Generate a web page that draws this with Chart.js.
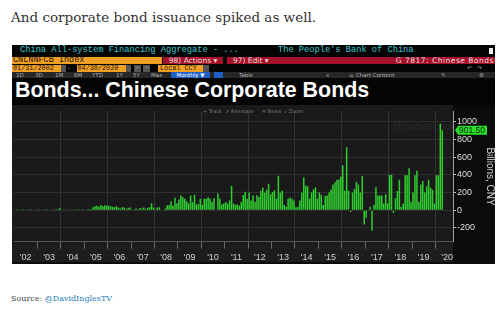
<!DOCTYPE html>
<html>
<head>
<meta charset="utf-8">
<script src="https://cdn.jsdelivr.net/npm/chart.js@4/dist/chart.umd.min.js"></script>
<style>
  html, body { margin: 0; padding: 0; background: #fff; }
  body { width: 504px; height: 310px; position: relative; overflow: hidden; }
  .abs { position: absolute; white-space: nowrap; }
  #intro { left: 11px; top: 9px; font: 13.5px/16px "DejaVu Serif", serif; color: #333; }
  #source { left: 11px; top: 294px; font: 8px/10px "DejaVu Serif", serif; color: #444; }
  #source span { color: #2b7bb9; }
  #panel { left: 12px; top: 45px; width: 483px; height: 219px; background: #050505; overflow: hidden; }
  .mono { font-family: "Liberation Mono", "DejaVu Sans Mono", monospace; }
  .row1 { top: 0; font-size: 8.7px; line-height: 11.5px; color: #3fc6cf; }
  .orange { background: #f2a024; color: #1c1208; }
  .red { background: #a3122a; color: #f3dada; font: 7.5px/7.5px "DejaVu Sans", sans-serif; }
  .row3 { top: 20px; height: 6.5px; font-size: 6.8px; line-height: 6.5px; }
  .gbox { background: #555; }
  #row4 { left: 0; top: 27px; width: 483px; height: 6px; background: #262626; }
  #row4 .abs { top: 0; font: 5.5px/6px "DejaVu Sans", sans-serif; color: #b4b4b4; }
  #title { left: 3px; top: 34.3px; font: bold 21.4px/22px "Liberation Sans", Arial, sans-serif; color: #fff; }
  #chart { position: absolute; left: 0; top: 60px; }
  .tool { top: 62.5px; font: 5px/7px "DejaVu Sans", sans-serif; color: #7c7c7c; }
  #wm { left: 380px; top: 75px; font: 11px/12px "Liberation Sans", sans-serif; color: rgba(255,255,255,0.07); }
</style>
</head>
<body>
<div id="intro" class="abs">And corporate bond issuance spiked as well.</div>

<div id="panel" class="abs">
  <div class="abs mono row1" style="left:8px">China All-system Financing Aggregate - ...</div>
  <div class="abs mono row1" style="left:266px">The People's Bank of China</div>
  <div class="abs" style="left:477px;top:2.5px;width:4px;height:6px;background:#eee"></div>

  <div class="abs mono orange" style="left:0;top:11.5px;width:149px;height:7.5px;font-size:8.5px;line-height:7.5px;padding-left:1px">CNLNNFCB Index</div>
  <div class="abs red" style="left:151px;top:11.5px;width:60px;height:7.5px;text-align:center">98) Actions ▾</div>
  <div class="abs red" style="left:215px;top:11.5px;width:268px;height:7.5px">
    <span class="abs" style="left:6px">97) Edit ▾</span>
    <span class="abs" style="right:1px;letter-spacing:0.5px">G 7817: Chinese Bonds</span>
  </div>

  <div class="abs mono orange row3" style="left:0;width:48px;padding-left:1px">01/31/2002</div>
  <div class="abs gbox row3" style="left:49px;width:5px"></div>
  <div class="abs row3" style="left:56px;color:#aaa;font-size:6px">-</div>
  <div class="abs mono orange row3" style="left:64.5px;width:48px;padding-left:1px">04/30/2020</div>
  <div class="abs gbox row3" style="left:114px;width:5px"></div>
  <div class="abs gbox row3" style="left:122px;width:7px;color:#ddd;font-size:5px;text-align:center">&lt;</div>
  <div class="abs gbox row3" style="left:131px;width:7px;color:#ddd;font-size:5px;text-align:center">&gt;</div>
  <div class="abs mono orange row3" style="left:146px;width:43px;padding-left:2px">Local CCY</div>
  <div class="abs gbox row3" style="left:191px;width:6px"></div>
  <div class="abs row3" style="left:455px;color:#999;font-size:6px">↶ &nbsp; ↷</div>

  <div id="row4" class="abs">
    <span class="abs" style="left:4px">1D</span>
    <span class="abs" style="left:23px">3D</span>
    <span class="abs" style="left:43px">1M</span>
    <span class="abs" style="left:62px">6M</span>
    <span class="abs" style="left:80px">YTD</span>
    <span class="abs" style="left:104px">1Y</span>
    <span class="abs" style="left:121px">5Y</span>
    <span class="abs" style="left:139px">Max</span>
    <span class="abs" style="left:159px;width:39px;height:6px;background:#1f5fc6;color:#fff;text-align:center">Monthly ▼</span>
    <span class="abs" style="left:202px;width:9px;height:6px;background:#1f5fc6"></span>
    <span class="abs" style="left:227px">Table</span>
    <span class="abs" style="left:314px">«</span>
    <span class="abs" style="left:337px">⚌ Chart Content</span>
    <span class="abs" style="left:429px">✎</span>
    <span class="abs" style="left:467px">⚙</span>
  </div>

  <div id="title" class="abs">Bonds... Chinese Corporate Bonds</div>

  <canvas id="chart" width="483" height="159"></canvas>

  <div class="abs tool" style="left:191px">+ Track</div>
  <div class="abs tool" style="left:213px">↗ Annotate</div>
  <div class="abs tool" style="left:250px">≡ News</div>
  <div class="abs tool" style="left:272px">⌕ Zoom</div>
  <div id="wm" class="abs">@SoberLook</div>
</div>

<div id="source" class="abs">Source: <span>@DavidInglesTV</span></div>

<script>
// ------- Data -------
const yearLabels = ["'02", "'03", "'04", "'05", "'06", "'07", "'08", "'09", "'10", "'11",
                    "'12", "'13", "'14", "'15", "'16", "'17", "'18", "'19", "'20"];
const firstYear = 2002;
const yTicks = [-200, 0, 200, 400, 600, 800, 1000];

// Net corporate bond financing, billions CNY, monthly from Jan 2002 to Apr 2020 (one row per year)
const bondValues = [
    5, 3, 8, 5, 10, 6, 8, 5, 12, 6, 5, 8,                       // 2002
    4, 6, 5, 8, 10, 5, 6, 8, 5, 10, 12, 25,                     // 2003
    5, 3, 6, 4, 5, 3, 8, 5, 12, 4, 6, 10,                       // 2004
    5, 8, 10, 15, 35, 45, 50, 40, 60, 45, 55, 50,               // 2005
    50, 45, 40, 35, 45, 30, 20, 35, 30, 15, 25, 30,             // 2006
    5, 10, 20, 10, 25, 20, 30, 15, 25, 35, 80, 30,              // 2007
    10, 30, 35, 5, 5, 20, 55, 60, 100, 50, 140, 80,             // 2008
    120, 165, 147, 130, 100, 75, 165, 93, 175, 68, 68, 130,     // 2009
    60, 130, 130, 147, 130, 93, 136, 5, 190, 130, 64, 75,       // 2010
    93, 75, 110, 272, 75, 64, 64, 50, 93, 172, 208, 130,        // 2011
    200, 110, 165, 93, 170, 150, 220, 255, 200, 230, 300, 180,  // 2012
    205, 225, 130, 390, 200, 220, 60, 40, 130, 145, 130, 110,   // 2013
    30, 40, 110, 200, 370, 280, 270, 130, 200, 235, 260, 130,   // 2014
    200, 175, 60, 160, 165, 200, 235, 290, 315, 345, 345, 380,  // 2015
    505, 220, 710, 220, -20, 200, 240, 320, 290, 200, 390, -160,// 2016
    -85, -10, 40, -230, 60, 260, 165, 165, 165, 75, 180, 75,    // 2017
    400, 400, -30, 135, 218, 343, 40, 75, 396, 396, 475, 93,    // 2018
    200, 396, 446, 93, 290, 330, 200, 270, 343, 253, 230, 75,   // 2019
    396, 396, 975, 901.5                                        // 2020
];

// month categories run a few months past the last value (right padding of the terminal chart)
const monthLabels = [];
for (let i = 0; i < bondValues.length + 5; i++) {
    monthLabels.push((firstYear + Math.floor(i / 12)) + '-' + String(i % 12 + 1).padStart(2, '0'));
}

// ------- Plugins -------
const panelBg = {
    id: 'panelBg',
    beforeDraw(chart) {
        const { ctx, chartArea: a, width, height } = chart;
        ctx.save();
        ctx.fillStyle = '#0b0b0b';
        ctx.fillRect(0, 0, width, height);
        ctx.fillStyle = '#1a1a1a';
        ctx.fillRect(0, 0, a.right, a.bottom);
        ctx.fillStyle = '#1d1d1d';
        ctx.fillRect(0, a.bottom, a.right, height - a.bottom - 2);
        ctx.restore();
    }
};

const lastTag = {
    id: 'lastTag',
    afterDraw(chart) {
        const { ctx, chartArea: a } = chart;
        const v = bondValues[bondValues.length - 1];
        const y = chart.scales.y.getPixelForValue(v);
        const x0 = a.right + 2, x1 = a.right + 34, h = 4.5;
        ctx.save();
        ctx.fillStyle = '#27e027';
        ctx.beginPath();
        ctx.moveTo(x0, y);
        ctx.lineTo(x0 + 3, y - h);
        ctx.lineTo(x1, y - h);
        ctx.lineTo(x1, y + h);
        ctx.lineTo(x0 + 3, y + h);
        ctx.closePath();
        ctx.fill();
        ctx.fillStyle = '#0c1a0c';
        ctx.font = '8.5px "Liberation Sans", Arial, sans-serif';
        ctx.textBaseline = 'middle';
        ctx.fillText(v.toFixed(2), x0 + 4, y + 0.5);
        ctx.restore();
    }
};

// ------- Chart -------
new Chart(document.getElementById('chart'), {
    type: 'bar',
    data: {
        labels: monthLabels,
        datasets: [{
            data: bondValues,
            backgroundColor: '#2fcc2f',
            borderWidth: 0,
            barPercentage: 0.78,
            categoryPercentage: 1.0
        }]
    },
    options: {
        responsive: false,
        animation: false,
        layout: { padding: 0 },
        plugins: { legend: { display: false }, tooltip: { enabled: false } },
        scales: {
            x: {
                grid: {
                    offset: true,
                    tickLength: 7,
                    color: (c) => {
                        const i = c.index;
                        if (i <= 0 || i >= monthLabels.length || i % 12 !== 0) return 'transparent';
                        return (i / 12) % 2 === 0 ? '#333333' : 'transparent';
                    },
                    tickColor: (c) => {
                        const i = c.index;
                        return (i > 0 && i < monthLabels.length && i % 12 === 0) ? '#6a6a6a' : 'transparent';
                    }
                },
                border: { color: '#555' },
                ticks: {
                    autoSkip: false,
                    maxRotation: 0,
                    minRotation: 0,
                    padding: 3,
                    labelOffset: -1,
                    color: '#d0d0d0',
                    font: { size: 9, family: '"Liberation Sans", Arial, sans-serif' },
                    callback: (v, i) => (i % 12 === 6 ? yearLabels[Math.floor(i / 12)] : '')
                },
                afterFit: (s) => { s.height = 22.3; }
            },
            y: {
                position: 'right',
                min: -355,
                max: 1115,
                afterBuildTicks: (s) => { s.ticks = yTicks.map(v => ({ value: v })); },
                grid: { color: '#2e2e2e', tickColor: '#bbb', tickLength: 3 },
                border: { color: '#a0a0a0' },
                ticks: {
                    padding: 1,
                    color: '#dedede',
                    font: { size: 9, family: '"Liberation Sans", Arial, sans-serif' },
                    callback: (v) => String(v)
                },
                title: {
                    display: true,
                    text: 'Billions, CNY',
                    color: '#d0d0d0',
                    padding: 0,
                    font: { size: 10, family: '"Liberation Sans", Arial, sans-serif', lineHeight: 1 }
                },
                afterFit: (s) => { s.width = 42; }
            }
        }
    },
    plugins: [panelBg, lastTag]
});
</script>
</body>
</html>
